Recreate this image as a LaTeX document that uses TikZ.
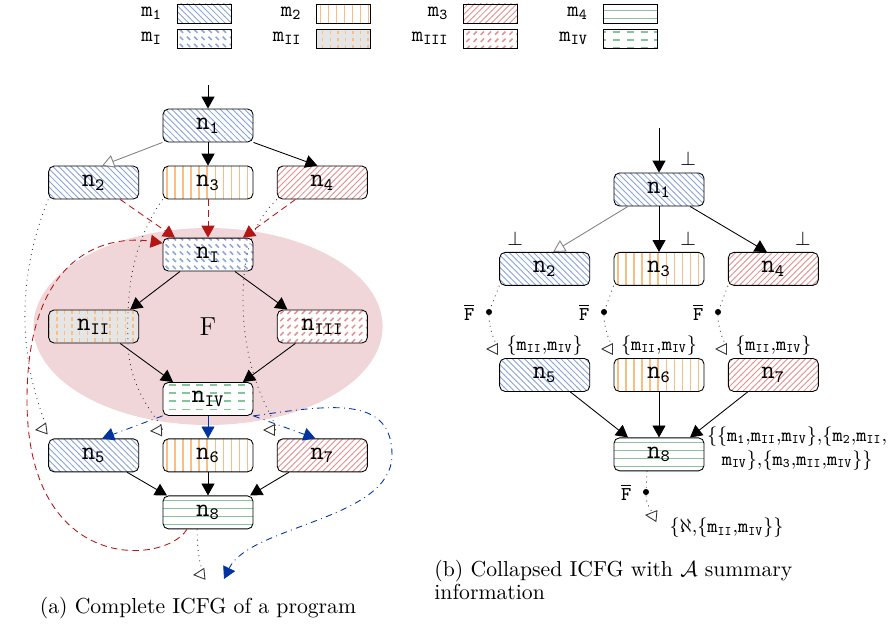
\documentclass[tikz,border=0pt]{standalone}
\usepackage{amsmath}
\usepackage{amssymb}
\usetikzlibrary{arrows.meta,patterns,positioning,shapes.geometric,calc}
\definecolor{MBlue}{RGB}{140,165,215}
\definecolor{MOrange}{RGB}{250,190,130}
\definecolor{MRed}{RGB}{228,145,145}
\definecolor{MGreen}{RGB}{135,195,155}
\definecolor{FPink}{RGB}{240,214,216}
\definecolor{ARust}{RGB}{180,22,22}
\definecolor{ABlue}{RGB}{0,50,160}
\newcommand{\nn}[1]{\ensuremath{\mathtt{n}_{\mathtt{#1}}}}
\newcommand{\mm}[1]{\ensuremath{\mathtt{m}_{\mathtt{#1}}}}
% plain hatchings
\pgfdeclarepatterninherentlycolored{hatchnw}{\pgfqpoint{-1pt}{-1pt}}{\pgfqpoint{4pt}{4pt}}{\pgfqpoint{2.8pt}{2.8pt}}{%
    \pgfsetstrokecolor{MBlue}
    \pgfsetlinewidth{0.4pt}
    \pgfpathmoveto{\pgfqpoint{-0.1pt}{2.9pt}}
    \pgfpathlineto{\pgfqpoint{2.9pt}{-0.1pt}}
    \pgfusepath{stroke}}
\pgfdeclarepatterninherentlycolored{hatchne}{\pgfqpoint{-1pt}{-1pt}}{\pgfqpoint{4pt}{4pt}}{\pgfqpoint{2.8pt}{2.8pt}}{%
    \pgfsetstrokecolor{MRed}
    \pgfsetlinewidth{0.4pt}
    \pgfpathmoveto{\pgfqpoint{-0.1pt}{-0.1pt}}
    \pgfpathlineto{\pgfqpoint{2.9pt}{2.9pt}}
    \pgfusepath{stroke}}
% dashed hatchings for the merged nodes
\pgfdeclarepatterninherentlycolored{dashnw}{\pgfqpoint{-1pt}{-1pt}}{\pgfqpoint{4.3pt}{4.3pt}}{\pgfqpoint{3.3pt}{3.3pt}}{%
    \pgfsetstrokecolor{MBlue}
    \pgfsetlinewidth{0.7pt}
    \pgfpathmoveto{\pgfqpoint{0.4pt}{2.9pt}}
    \pgfpathlineto{\pgfqpoint{1.9pt}{1.4pt}}
    \pgfusepath{stroke}}
\pgfdeclarepatterninherentlycolored{dashne}{\pgfqpoint{-1pt}{-1pt}}{\pgfqpoint{4.3pt}{4.3pt}}{\pgfqpoint{3.3pt}{3.3pt}}{%
    \pgfsetstrokecolor{MRed}
    \pgfsetlinewidth{0.7pt}
    \pgfpathmoveto{\pgfqpoint{0.5pt}{0.5pt}}
    \pgfpathlineto{\pgfqpoint{2pt}{2pt}}
    \pgfusepath{stroke}}
\pgfdeclarepatterninherentlycolored{dashvert}{\pgfqpoint{-1pt}{-1pt}}{\pgfqpoint{4.5pt}{4.5pt}}{\pgfqpoint{3.5pt}{3.3pt}}{%
    \pgfsetstrokecolor{MOrange}
    \pgfsetlinewidth{0.7pt}
    \pgfpathmoveto{\pgfqpoint{1.75pt}{0.7pt}}
    \pgfpathlineto{\pgfqpoint{1.75pt}{2.4pt}}
    \pgfusepath{stroke}}
\pgfdeclarepatterninherentlycolored{dashhoriz}{\pgfqpoint{-1pt}{-1pt}}{\pgfqpoint{7.5pt}{5pt}}{\pgfqpoint{6.4pt}{3.7pt}}{%
    \pgfsetstrokecolor{MGreen}
    \pgfsetlinewidth{0.7pt}
    \pgfpathmoveto{\pgfqpoint{0.9pt}{1.85pt}}
    \pgfpathlineto{\pgfqpoint{4.2pt}{1.85pt}}
    \pgfusepath{stroke}}
\tikzset{
    block/.style = {draw, rectangle, rounded corners=2.5pt, preaction={fill=white},
        minimum height=15.2pt, 
        minimum width=41.5pt, inner sep=1pt, font=\large},
    legbox/.style = {draw, rectangle, minimum height=8.8pt, minimum width=24.9pt, inner sep=0pt},
    region/.style = {ellipse, fill=FPink, minimum width=161pt, minimum height=90.8pt, inner sep=0pt, font=\large},
    dot/.style = {circle, fill=black, inner sep=0pt, minimum size=2.8pt},
    note/.style = {inner sep=1pt, font=\small},
    pat1/.style = {pattern=hatchnw},
    pat2/.style = {path picture={
        \foreach \k in {1,...,12}
            \draw [MOrange, line width=0.6pt] ([xshift=\k*3.7pt-1.85pt]path picture bounding box.south west) -- ([xshift=\k*3.7pt-1.85pt]path picture bounding box.north west);}},
    pat3/.style = {pattern=hatchne},
    pat4/.style = {path picture={
        \foreach \k in {1,...,5}
            \draw [MGreen, line width=0.6pt] ([yshift=\k*3.7pt-1.75pt]path picture bounding box.south west) -- ([yshift=\k*3.7pt-1.75pt]path picture bounding box.south east);}},
    patI/.style = {pattern=dashnw},
    patII/.style = {preaction={fill=black!10}, pattern=dashvert},
    patIII/.style = {pattern=dashne},
    patIV/.style = {pattern=dashhoriz},
    arrow/.style = {draw, -{Triangle[length=5.5pt,width=6pt]}},
    farrow/.style = {draw=gray, -{Triangle[open,fill=white,length=5.5pt,width=6pt]}},
    retarrow/.style = {draw=black!80, dotted, -{Triangle[open,fill=white,length=5.5pt,width=5.5pt]}},
    sumarrow/.style = {draw=ARust, dash pattern=on 3pt off 2pt, -{Triangle[length=5.5pt,width=6pt]}},
    barrow/.style = {draw=ABlue, dashdotted, -{Triangle[length=5.5pt,width=6pt]}}
}

\begin{document}
\begin{tikzpicture}[x=0.461pt, y=-0.461pt, node distance=52.7pt]
    \useasboundingbox (0,0) rectangle (892,630);
    % legend
    \node [legbox, pat1] (l1) at (204,13.5) {};
    \node [legbox, patI] (lI) at (204,38.5) {};
    \node [legbox, pat2] (l2) at (343.5,13.5) {};
    \node [legbox, patII] (lII) at (343.5,38.5) {};
    \node [legbox, pat3] (l3) at (490.5,13.5) {};
    \node [legbox, patIII] (lIII) at (490.5,38.5) {};
    \node [legbox, pat4] (l4) at (630,13.5) {};
    \node [legbox, patIV] (lIV) at (630,38.5) {};
    \node [left=6pt of l1, inner sep=0.5pt] (t1) {\mm{1}};
    \node [left=6pt of lI, inner sep=0.5pt] (tI) {\mm{I}};
    \node [left=6pt of l2, inner sep=0.5pt] (t2) {\mm{2}};
    \node [left=6pt of lII, inner sep=0.5pt] (tII) {\mm{II}};
    \node [left=6pt of l3, inner sep=0.5pt] (t3) {\mm{3}};
    \node [left=6pt of lIII, inner sep=0.5pt] (tIII) {\mm{III}};
    \node [left=6pt of l4, inner sep=0.5pt] (t4) {\mm{4}};
    \node [left=6pt of lIV, inner sep=0.5pt] (tIV) {\mm{IV}};

    % (a) complete ICFG
    \node [region] (F) at (208,326.5) {F};
    \node [block, pat1] (n1) at (208,125.5) {\nn{1}};
    \node [block, pat2, below of=n1, node distance=26.3pt] (n3) {\nn{3}};
    \node [block, pat1, left of=n3] (n2) {\nn{2}};
    \node [block, pat3, right of=n3] (n4) {\nn{4}};
    \node [block, patI, below of=n3, node distance=33.2pt] (nI) {\nn{I}};
    \node [block, patII, left of=F] (nII) {\nn{II}};
    \node [block, patIII, right of=F] (nIII) {\nn{III}};
    \node [block, patIV, below of=F, node distance=33.4pt] (nIV) {\nn{IV}};
    \node [block, pat2, below of=nIV, node distance=26pt] (n6) {\nn{6}};
    \node [block, pat1, left of=n6] (n5) {\nn{5}};
    \node [block, pat3, right of=n6] (n7) {\nn{7}};
    \node [block, pat4, below of=n6, node distance=26.3pt] (n8) {\nn{8}};
    \coordinate (s1) at (208,85);
    \coordinate (t5) at (35,430);
    \coordinate (t6) at (150,431);
    \coordinate (t7) at (263,430);
    \coordinate (t8) at (193,575);
    \coordinate (t9) at (224,579);
    \draw [arrow] (s1) -- (n1);
    \draw [farrow] (n1.south west) -- ([xshift=3.9pt]n2.north);
    \draw [arrow] (n1) -- (n3);
    \draw [arrow] (n1.south east) -- ([xshift=-2.3pt]n4.north);
    \draw [sumarrow] ([xshift=12.2pt]n2.south) -- ([xshift=-15.2pt]nI.north);
    \draw [sumarrow] (n3) -- (nI);
    \draw [sumarrow] ([xshift=-12.4pt]n4.south) -- ([xshift=16.1pt]nI.north);
    \draw [arrow] ([xshift=-12.9pt]nI.south) -- ([xshift=16.8pt]nII.north);
    \draw [arrow] ([xshift=12.4pt]nI.south) -- ([xshift=-16.1pt]nIII.north);
    \draw [arrow] ([xshift=12.2pt]nII.south) -- ([xshift=-16.1pt]nIV.north);
    \draw [arrow] ([xshift=-12.4pt]nIII.south) -- ([xshift=16.1pt]nIV.north);
    \draw [barrow] (nIV.south west) -- ([xshift=3.9pt]n5.north);
    \draw [arrow, ABlue] (nIV) -- (n6);
    \draw [barrow] (nIV.south east) -- ([xshift=-3.2pt]n7.north);
    \draw [arrow] ([xshift=15.4pt]n5.south) -- ([xshift=-18.9pt]n8.north);
    \draw [arrow] (n6) -- (n8);
    \draw [arrow] ([xshift=-15.4pt]n7.south) -- ([xshift=19.4pt]n8.north);
    \draw [retarrow] (n2.south west) .. controls (-5,330) and (50,428) .. (t5);
    \draw [retarrow] (n3.south west) .. controls (128,250) and (127,300) .. (128,345) .. controls (130,400) and (170,430) .. (t6);
    \draw [retarrow] (n4.south west) .. controls (250,225) and (243,260) .. (243,300) .. controls (243,390) and (285,430) .. (t7);
    \draw [retarrow] ([xshift=-5pt]n8.south) .. controls (197,560) and (203,574) .. (t8);
    \draw [sumarrow] ([xshift=-9.7pt]n8.south) .. controls (165,565) and (27,575) .. (27,400) .. controls (27,250) and (110,235) .. ([yshift=5.3pt]nI.west);
    \draw [barrow] (nIV.south east) .. controls (330,405) and (392,395) .. (392,455) .. controls (392,520) and (250,525) .. (t9);
    \node [anchor=base] (capa) at (198,613) {(a) Complete ICFG of a program};

    % (b) collapsed ICFG
    \node [block, pat1] (r1) at (659,189.5) {\nn{1}};
    \node [block, pat2, below of=r1, node distance=36.6pt] (r3) {\nn{3}};
    \node [block, pat1, left of=r3] (r2) {\nn{2}};
    \node [block, pat3, right of=r3] (r4) {\nn{4}};
    \node [block, pat2, below of=r3, node distance=48.9pt] (r6) {\nn{6}};
    \node [block, pat1, left of=r6] (r5) {\nn{5}};
    \node [block, pat3, right of=r6] (r7) {\nn{7}};
    \node [block, pat4, below of=r6, node distance=36.6pt] (r8) {\nn{8}};
    \node [note, anchor=south] (b1) at ([xshift=13.4pt, yshift=2pt]r1.north) {$\bot$};
    \node [note, anchor=south] (b2) at ([xshift=-13.6pt, yshift=2pt]r2.north) {$\bot$};
    \node [note, anchor=south] (b3) at ([xshift=13.4pt, yshift=2pt]r3.north) {$\bot$};
    \node [note, anchor=south] (b4) at ([xshift=13.6pt, yshift=2pt]r4.north) {$\bot$};
    \coordinate (s2) at (659,128);
    \draw [arrow] (s2) -- (r1);
    \draw [farrow] ([xshift=-14.3pt]r1.south) -- ([xshift=3.9pt]r2.north);
    \draw [arrow] (r1) -- (r3);
    \draw [arrow] ([xshift=14.3pt]r1.south) -- ([xshift=-3pt]r4.north);
    \node [dot] (d2) at (489,312) {};
    \node [dot] (d3) at (604,312) {};
    \node [dot] (d4) at (718,312) {};
    \node [dot] (d8) at (646,492) {};
    \node [note, left=4pt of d2] (f2) {$\overline{\mathtt{F}}$};
    \node [note, left=4pt of d3] (f3) {$\overline{\mathtt{F}}$};
    \node [note, left=4pt of d4] (f4) {$\overline{\mathtt{F}}$};
    \node [note, left=4pt of d8] (f8) {$\overline{\mathtt{F}}$};
    \coordinate (u5) at (486,349);
    \coordinate (u6) at (601,349);
    \coordinate (u7) at (715,349);
    \coordinate (u8) at (645,515);
    \draw [draw=black!80, dotted] (r2.south west) -- (d2);
    \draw [draw=black!80, dotted] (r3.south west) -- (d3);
    \draw [draw=black!80, dotted] (r4.south west) -- (d4);
    \draw [draw=black!80, dotted] ([xshift=-5.5pt]r8.south) -- (d8);
    \draw [retarrow] (d2) .. controls (489,335) and (500,349) .. (u5);
    \draw [retarrow] (d3) .. controls (604,335) and (615,349) .. (u6);
    \draw [retarrow] (d4) .. controls (718,335) and (729,349) .. (u7);
    \draw [retarrow] (d8) .. controls (646,508) and (656,516) .. (u8);
    \node [note, above=0pt of r5] (a5) {\{\mm{II},\mm{IV}\}};
    \node [note, above=0pt of r6] (a6) {\{\mm{II},\mm{IV}\}};
    \node [note, above=0pt of r7] (a7) {\{\mm{II},\mm{IV}\}};
    \draw [arrow] ([xshift=11.8pt]r5.south) -- ([xshift=-14.3pt]r8.north);
    \draw [arrow] (r6) -- (r8);
    \draw [arrow] ([xshift=-11.8pt]r7.south) -- ([xshift=14.3pt]r8.north);
    \node [note, right=0pt of r8, yshift=2.8pt, align=center] (a8) {\{\{\mm{1},\mm{II},\mm{IV}\},\{\mm{2},\mm{II},\\\mm{IV}\},\{\mm{3},\mm{II},\mm{IV}\}\}};
    \node [note] (a9) at (726.5,528) {\{$\aleph$,\{\mm{II},\mm{IV}\}\}};
    \node [anchor=north west, align=left, inner sep=0pt, font=\fontsize{10}{10.6}\selectfont] (capb) at (434,560) {(b) Collapsed ICFG with $\mathcal{A}$ summary\\information};
\end{tikzpicture}
\end{document}
